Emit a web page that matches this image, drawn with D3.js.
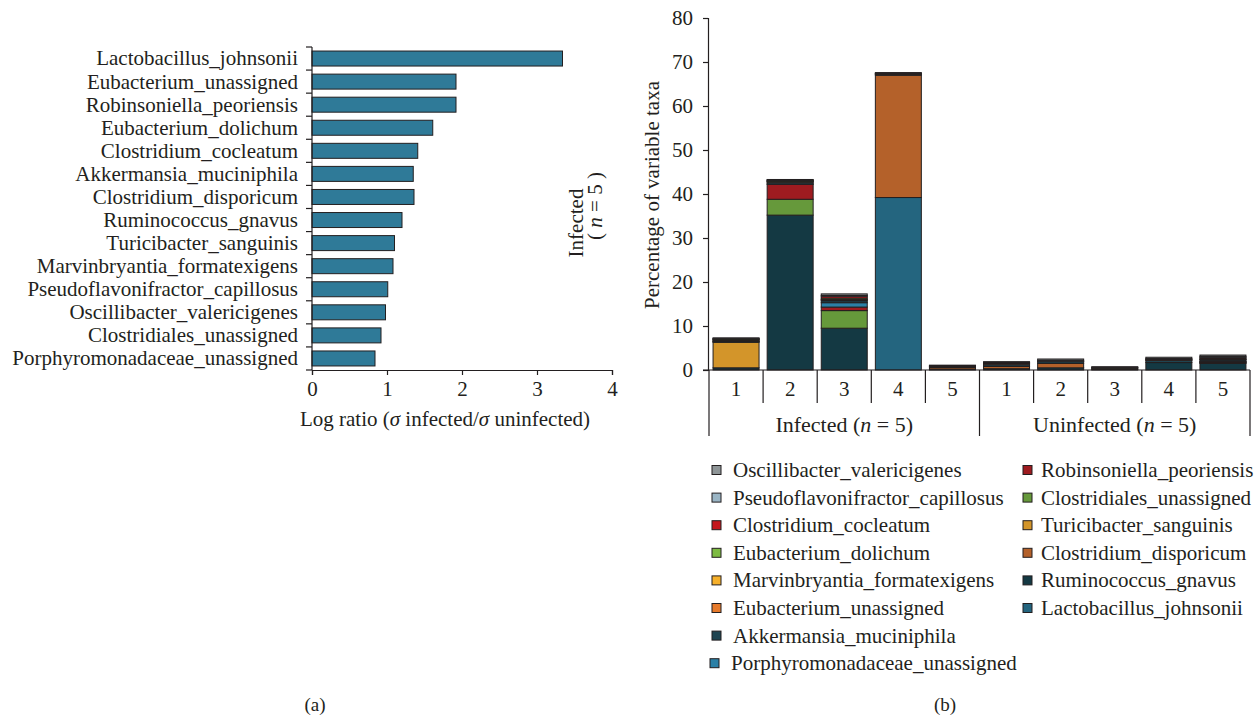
<!DOCTYPE html>
<html>
<head>
<meta charset="utf-8">
<script src="https://cdn.jsdelivr.net/npm/d3@7"></script>
<style>
  html, body { margin: 0; padding: 0; background: #fff; }
  svg { display: block; font-family: "Liberation Serif", "Times New Roman", serif; fill: #231f20; }
  text { fill: #231f20; }
</style>
</head>
<body>
<svg id="chart" width="1258" height="718"></svg>
<script>
// ---------- Panel (a): log ratio of variance, infected vs uninfected ----------
const ratioTaxa = [
  "Lactobacillus_johnsonii", "Eubacterium_unassigned", "Robinsoniella_peoriensis",
  "Eubacterium_dolichum", "Clostridium_cocleatum", "Akkermansia_muciniphila",
  "Clostridium_disporicum", "Ruminococcus_gnavus", "Turicibacter_sanguinis",
  "Marvinbryantia_formatexigens", "Pseudoflavonifractor_capillosus",
  "Oscillibacter_valericigenes", "Clostridiales_unassigned", "Porphyromonadaceae_unassigned"
];
const logRatio = [3.34, 1.92, 1.92, 1.61, 1.41, 1.35, 1.36, 1.20, 1.10, 1.08, 1.01, 0.98, 0.92, 0.84];
const ratioTicks = [0, 1, 2, 3, 4];

// ---------- Panel (b): stacked percentage of variable taxa per mouse ----------
const groups = ["Infected", "Uninfected"];
const samples = ["1", "2", "3", "4", "5"];
const percentTicks = [0, 10, 20, 30, 40, 50, 60, 70, 80];

// Legend order (column-wise)
const legendTaxa = [
  "Oscillibacter_valericigenes", "Pseudoflavonifractor_capillosus", "Clostridium_cocleatum",
  "Eubacterium_dolichum", "Marvinbryantia_formatexigens", "Eubacterium_unassigned",
  "Akkermansia_muciniphila", "Porphyromonadaceae_unassigned",
  "Robinsoniella_peoriensis", "Clostridiales_unassigned", "Turicibacter_sanguinis",
  "Clostridium_disporicum", "Ruminococcus_gnavus", "Lactobacillus_johnsonii"
];
const taxonColors = [
  "#8e9597", "#9ab5c5", "#c4161c", "#7dbb42", "#f6b02a", "#e67a2b", "#1f4451",
  "#2b80a6", "#9e1b20", "#66993b", "#d3952a", "#b4612a", "#143943", "#24657f"
];

// Percentages for Infected 1-5 then Uninfected 1-5
const oscillibacter   = [0.1, 0.1, 0.35, 0.2, 0.1, 0.2, 0.3, 0.15, 0.3, 0.3];
const pseudoflavonifr = [0.1, 0.1, 0.2, 0.1, 0.1, 0.1, 0.2, 0.1, 0.2, 0.2];
const clostCocleatum  = [0, 0.1, 0.4, 0, 0.1, 0.1, 0, 0, 0.1, 0.2];
const eubDolichum     = [0.1, 0.1, 0.3, 0, 0, 0, 0, 0, 0, 0.2];
const marvinbryantia  = [0.1, 0.1, 0.1, 0, 0, 0, 0, 0, 0, 0.1];
const eubUnassigned   = [0.1, 0.1, 0.2, 0.1, 0.1, 0.2, 0.1, 0, 0.1, 0.1];
const akkermansia     = [0.2, 0.4, 0.45, 0.2, 0.2, 0.4, 0.4, 0.1, 0.5, 0.3];
const porphyromonad   = [0.1, 0.1, 1.0, 0, 0, 0, 0, 0, 0, 0.1];
const robinsoniella   = [0.1, 3.4, 0.8, 0, 0, 0, 0, 0, 0, 0.1];
const clostridiales   = [0.1, 3.6, 4.0, 0, 0, 0, 0, 0, 0, 0.1];
const turicibacter    = [5.8, 0, 0, 0, 0, 0.1, 0, 0.3, 0, 0.1];
const clostDisporicum = [0, 0, 0, 27.8, 0.4, 0.5, 1.0, 0, 0, 0.1];
const ruminococcus    = [0.5, 35.2, 9.5, 0, 0.1, 0.3, 0.5, 0.1, 1.7, 1.5];
const lactobacillus   = [0, 0, 0, 39.2, 0, 0, 0, 0, 0, 0];

const seriesValues = [
  oscillibacter, pseudoflavonifr, clostCocleatum, eubDolichum, marvinbryantia,
  eubUnassigned, akkermansia, porphyromonad, robinsoniella, clostridiales,
  turicibacter, clostDisporicum, ruminococcus, lactobacillus
];

const ink = "#231f20";
const fs = 21;
const svg = d3.select("#chart");

// =================== Panel (a) ===================
const a = svg.append("g");
const xA = d3.scaleLinear().domain([0, 4]).range([312, 612]);
const yA = d3.scaleBand().domain(ratioTaxa).range([47, 370])
  .paddingInner(0.35).paddingOuter(0.175);
const stepA = yA.step();

a.selectAll("rect.ratio").data(ratioTaxa).join("rect")
  .attr("class", "ratio")
  .attr("x", xA(0))
  .attr("y", d => yA(d))
  .attr("width", (d, i) => xA(logRatio[i]) - xA(0))
  .attr("height", yA.bandwidth())
  .attr("fill", "#2f7a98")
  .attr("stroke", ink)
  .attr("stroke-width", 1);

// category axis with ticks on band boundaries
a.append("line").attr("x1", xA(0)).attr("x2", xA(0))
  .attr("y1", yA.range()[0]).attr("y2", yA.range()[1])
  .attr("stroke", ink).attr("stroke-width", 1.2);
const bounds = d3.range(ratioTaxa.length + 1).map(i => yA.range()[0] + i * stepA);
a.selectAll("line.ytick").data(bounds).join("line")
  .attr("class", "ytick")
  .attr("x1", xA(0) - 6).attr("x2", xA(0))
  .attr("y1", d => d).attr("y2", d => d)
  .attr("stroke", ink).attr("stroke-width", 1.2);
a.selectAll("text.ylab").data(ratioTaxa).join("text")
  .attr("class", "ylab")
  .attr("x", 298)
  .attr("y", d => yA(d) + yA.bandwidth() / 2)
  .attr("dy", "0.33em")
  .attr("text-anchor", "end")
  .attr("font-size", fs)
  .text(d => d);

// value axis
const axA = a.append("g").attr("transform", "translate(0,370)")
  .call(d3.axisBottom(xA).tickValues(ratioTicks).tickSize(5).tickPadding(6).tickFormat(d3.format("d")));
axA.select(".domain").attr("stroke", ink).attr("stroke-width", 1.2);
axA.selectAll(".tick line").attr("stroke", ink).attr("stroke-width", 1.2);
axA.selectAll(".tick text").attr("font-size", fs).attr("font-family", "Liberation Serif").attr("fill", ink);

const titleA = a.append("text").attr("x", 445).attr("y", 426)
  .attr("text-anchor", "middle").attr("font-size", fs);
titleA.append("tspan").text("Log ratio (");
titleA.append("tspan").attr("font-style", "italic").text("σ");
titleA.append("tspan").text(" infected/");
titleA.append("tspan").attr("font-style", "italic").text("σ");
titleA.append("tspan").text(" uninfected)");

// side label
a.append("text").attr("transform", "translate(583,223) rotate(-90)")
  .attr("text-anchor", "middle").attr("font-size", fs).text("Infected");
const side2 = a.append("text").attr("transform", "translate(602,206) rotate(-90)")
  .attr("text-anchor", "middle").attr("font-size", fs);
side2.append("tspan").text("( ");
side2.append("tspan").attr("font-style", "italic").text("n");
side2.append("tspan").text(" = 5 )");

a.append("text").attr("x", 315).attr("y", 711).attr("text-anchor", "middle")
  .attr("font-size", 19).text("(a)");

// =================== Panel (b) ===================
const b = svg.append("g");
const barKeys = [];
groups.forEach(g => samples.forEach(s => barKeys.push(g + "|" + s)));
const xB = d3.scaleBand().domain(barKeys).range([709, 1250]).paddingInner(0.15).paddingOuter(0.075);
const yB = d3.scaleLinear().domain([0, 80]).range([370, 18]);

// stacked table: first series at the top, last at the bottom
const table = barKeys.map((k, i) => {
  const row = { key: k };
  legendTaxa.forEach((t, j) => { row[t] = seriesValues[j][i]; });
  return row;
});
const stackOrder = legendTaxa.slice().reverse();
const stacked = d3.stack().keys(stackOrder)(table);
const colorOf = d3.scaleOrdinal().domain(legendTaxa).range(taxonColors);

b.selectAll("g.layer").data(stacked).join("g")
  .attr("class", "layer")
  .attr("fill", d => colorOf(d.key))
  .selectAll("rect").data(d => d.filter(p => p[1] - p[0] > 0)).join("rect")
  .attr("x", d => xB(d.data.key))
  .attr("width", xB.bandwidth())
  .attr("y", d => yB(d[1]))
  .attr("height", d => yB(d[0]) - yB(d[1]))
  .attr("stroke", ink)
  .attr("stroke-width", 1);

// value axis
const axB = b.append("g").attr("transform", "translate(708,0)")
  .call(d3.axisLeft(yB).tickValues(percentTicks).tickSize(5).tickPadding(10).tickFormat(d3.format("d")));
axB.select(".domain").attr("stroke", ink).attr("stroke-width", 1.2);
axB.selectAll(".tick line").attr("stroke", ink).attr("stroke-width", 1.2);
axB.selectAll(".tick text").attr("font-size", fs).attr("font-family", "Liberation Serif").attr("fill", ink);

b.append("text")
  .attr("transform", "translate(659,195) rotate(-90)")
  .attr("text-anchor", "middle").attr("font-size", fs)
  .text("Percentage of variable taxa");

// category axis: baseline, sample separators and group separators
const stepB = xB.step();
const x0 = xB.range()[0];
b.append("line").attr("x1", 703).attr("x2", xB.range()[1])
  .attr("y1", yB(0)).attr("y2", yB(0))
  .attr("stroke", ink).attr("stroke-width", 1.2);
const seps = d3.range(barKeys.length + 1).map(i => x0 + i * stepB);
b.selectAll("line.sep").data(seps).join("line")
  .attr("class", "sep")
  .attr("x1", d => d).attr("x2", d => d)
  .attr("y1", yB(0))
  .attr("y2", (d, i) => (i % samples.length === 0) ? 436 : 403)
  .attr("stroke", ink).attr("stroke-width", 1.2);
b.selectAll("text.sample").data(barKeys).join("text")
  .attr("class", "sample")
  .attr("x", d => xB(d) + xB.bandwidth() / 2)
  .attr("y", 396)
  .attr("text-anchor", "middle")
  .attr("font-size", fs)
  .text(d => d.split("|")[1]);
groups.forEach((g, gi) => {
  const cx = x0 + stepB * samples.length * (gi + 0.5);
  const t = b.append("text").attr("x", cx).attr("y", 432)
    .attr("text-anchor", "middle").attr("font-size", 22);
  t.append("tspan").text(g + " (");
  t.append("tspan").attr("font-style", "italic").text("n");
  t.append("tspan").text(" = 5)");
});

// legend, two columns
const rowsPerCol = 8;
const legend = b.selectAll("g.leg").data(legendTaxa).join("g")
  .attr("class", "leg")
  .attr("transform", (d, i) => {
    const col = i < rowsPerCol ? 0 : 1;
    const row = col === 0 ? i : i - rowsPerCol;
    const lx = col === 0 ? (i === rowsPerCol - 1 ? 710 : 712) : 1023;
    return `translate(${lx},${470 + row * 27.6})`;
  });
legend.append("rect")
  .attr("x", 0).attr("y", -4.5).attr("width", 9).attr("height", 9)
  .attr("fill", d => colorOf(d))
  .attr("stroke", ink).attr("stroke-width", 1);
legend.append("text")
  .attr("x", (d, i) => i < rowsPerCol ? 21 : 18).attr("y", 0).attr("dy", "0.33em")
  .attr("font-size", fs)
  .text(d => d);

b.append("text").attr("x", 945).attr("y", 711).attr("text-anchor", "middle")
  .attr("font-size", 19).text("(b)");
</script>
</body>
</html>
